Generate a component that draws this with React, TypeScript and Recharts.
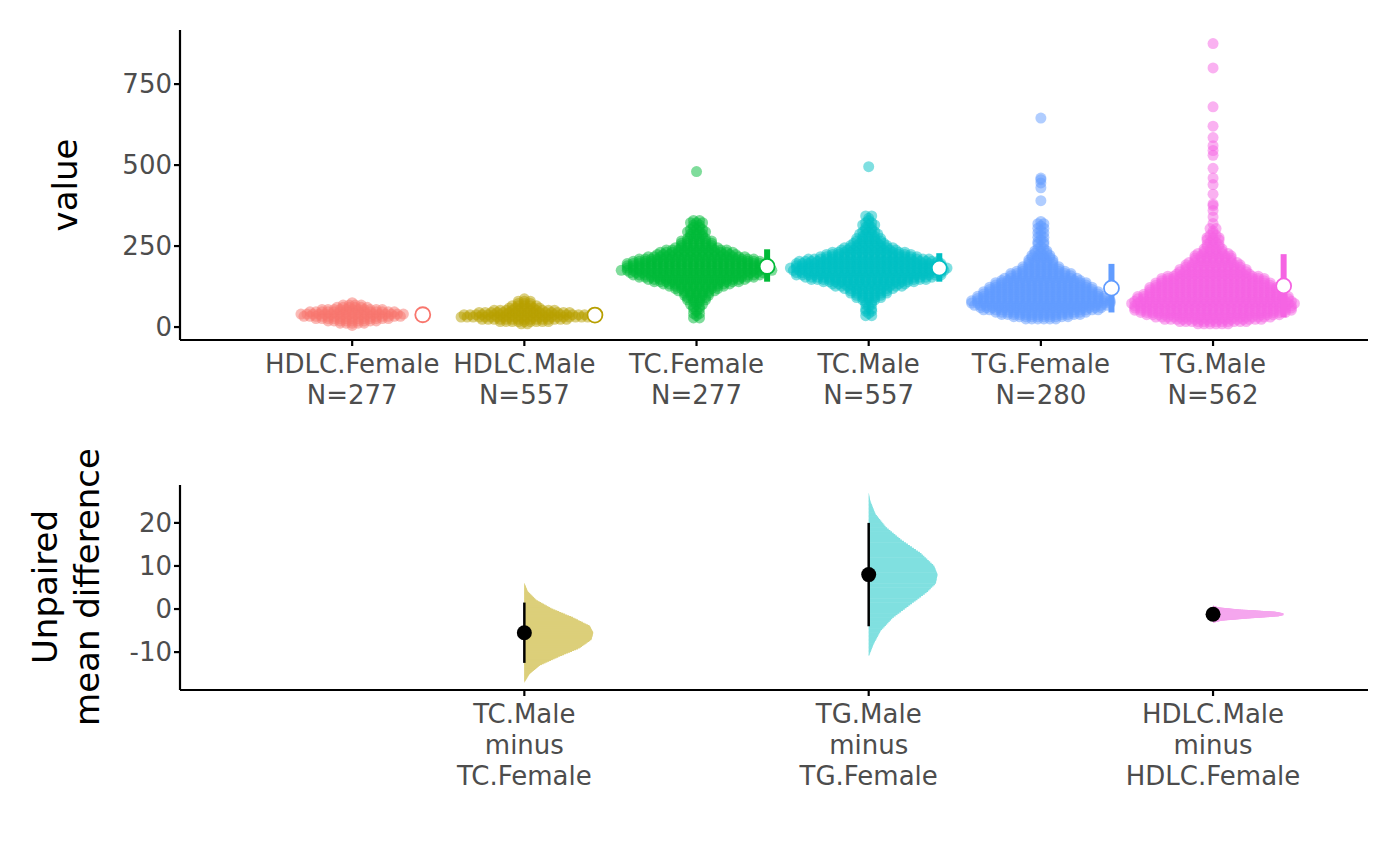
import { ComposedChart, Scatter, XAxis, YAxis, ErrorBar } from 'recharts';

const groups = ['HDLC.Female', 'HDLC.Male', 'TC.Female', 'TC.Male', 'TG.Female', 'TG.Male'];
const groupN = [277, 557, 277, 557, 280, 562];
const colors = ['#F8766D', '#B79F00', '#00BA38', '#00BFC4', '#619CFF', '#F564E3'];

// swarm outline: [value, half width in category units]
const swarmProfiles: [number, number][][] = [
  [[5, 0.03], [15, 0.1], [25, 0.22], [35, 0.33], [45, 0.3], [55, 0.18], [65, 0.08], [75, 0.03]],
  [[10, 0.05], [20, 0.2], [30, 0.38], [40, 0.35], [50, 0.2], [60, 0.1], [72, 0.05], [88, 0.02]],
  [[28, 0.02], [50, 0.02], [75, 0.04], [100, 0.08], [125, 0.15], [150, 0.32], [175, 0.45], [200, 0.4], [225, 0.25], [250, 0.12], [275, 0.07], [300, 0.05], [330, 0.03]],
  [[35, 0.02], [60, 0.03], [85, 0.06], [110, 0.12], [135, 0.25], [160, 0.42], [180, 0.48], [205, 0.4], [230, 0.22], [255, 0.1], [280, 0.06], [310, 0.04], [345, 0.02]],
  [[25, 0.12], [50, 0.32], [75, 0.42], [100, 0.36], [125, 0.3], [150, 0.22], [175, 0.15], [200, 0.08], [225, 0.05], [250, 0.03], [275, 0.02], [300, 0.02], [330, 0.02]],
  [[10, 0.12], [25, 0.32], [50, 0.46], [75, 0.5], [100, 0.42], [125, 0.36], [150, 0.3], [175, 0.2], [200, 0.15], [225, 0.1], [250, 0.06], [275, 0.04], [305, 0.02]],
];
const outliers: number[][] = [
  [],
  [],
  [480],
  [495],
  [390, 430, 445, 455, 460, 645],
  [320, 340, 360, 375, 380, 410, 440, 460, 490, 530, 545, 560, 585, 620, 680, 800, 875],
];
const groupMean = [38, 37, 187, 182, 120, 127];
const groupLo = [26, 26, 140, 140, 45, 30];
const groupHi = [50, 48, 240, 228, 195, 225];

// effect sizes
const diffLabels = [['TC.Male', 'minus', 'TC.Female'], ['TG.Male', 'minus', 'TG.Female'], ['HDLC.Male', 'minus', 'HDLC.Female']];
const diffX = [2, 4, 6];
const diffMean = [-5.5, 8, -1.2];
const diffLo = [-12.5, -4, -2.3];
const diffHi = [1.5, 20, -0.2];
const violinColors = ['#DCCF7A', '#80E0E0', '#F5A6EE'];
const violinProfiles: [number, number][][] = [
  [[-17, 0], [-15, 0.03], [-13, 0.09], [-11, 0.2], [-9, 0.32], [-7, 0.39], [-5.5, 0.4], [-4, 0.38], [-2, 0.28], [0, 0.16], [2, 0.07], [4, 0.02], [6, 0]],
  [[-11, 0], [-8, 0.03], [-5, 0.07], [-2, 0.14], [1, 0.24], [4, 0.34], [6, 0.39], [8, 0.4], [10, 0.38], [13, 0.3], [16, 0.19], [19, 0.1], [22, 0.04], [25, 0.01], [27, 0]],
  [[-3, 0], [-2.5, 0.05], [-2, 0.2], [-1.5, 0.38], [-1.2, 0.41], [-0.8, 0.36], [-0.3, 0.15], [0.2, 0.03], [0.6, 0]],
];

const FONT = 'DejaVu Sans';

function widthAt(p: [number, number][], v: number) {
  for (let i = 0; i < p.length - 1; i++) {
    const [a, wa] = p[i], [b, wb] = p[i + 1];
    if (v >= a && v <= b) return wa + ((v - a) / (b - a)) * (wb - wa);
  }
  return 0;
}

function swarmDots(g: number) {
  const p = swarmProfiles[g];
  const pts: { x: number; y: number }[] = [];
  const sp = 0.035;
  let row = 0;
  for (let v = p[0][0]; v <= p[p.length - 1][0]; v += 7, row++) {
    const hw = widthAt(p, v);
    const n = Math.max(1, Math.round((2 * hw) / sp) + 1);
    const off = row % 2 ? sp / 2 : 0;
    for (let j = 0; j < n; j++) {
      const dx = (j - (n - 1) / 2) * sp + (n > 1 ? off : 0);
      if (Math.abs(dx) <= hw + 0.001) pts.push({ x: g + 1 + dx, y: v });
    }
  }
  outliers[g].forEach((v) => pts.push({ x: g + 1, y: v }));
  return pts;
}

function violinRows(k: number) {
  const p = violinProfiles[k];
  const lo = p[0][0], hi = p[p.length - 1][0];
  const step = (hi - lo) / 120;
  const rows: { x: number; y: number; err: [number, number] }[] = [];
  for (let v = lo; v <= hi; v += step) {
    rows.push({ x: diffX[k], y: v, err: [0, widthAt(p, v)] });
  }
  return rows;
}

const Nothing = () => <g />;

const makeTick = (lines: (v: number) => string[]) => ({ x, y, payload }: any) => (
  <text x={x} y={y} textAnchor="middle" fill="#4d4d4d" fontSize={26} fontFamily={FONT}>
    {lines(payload.value).map((l, i) => (
      <tspan key={i} x={x} dy={i === 0 ? 25 : 31}>{l}</tspan>
    ))}
  </text>
);

const TopTick = makeTick((v) => [groups[v - 1], `N=${groupN[v - 1]}`]);
const BotTick = makeTick((v) => diffLabels[diffX.indexOf(v)] || []);

const axisStyle = { stroke: '#000', strokeWidth: 2.2 };
const yTick = { fill: '#4d4d4d', fontSize: 26, fontFamily: FONT };

export default function App() {
  return (
    <div style={{ position: 'absolute', left: 0, top: 0, width: 1400, height: 866, background: '#fff', fontFamily: FONT }}>
      <ComposedChart width={1400} height={430} margin={{ top: 30, right: 32, left: 0, bottom: 0 }}>
        <XAxis type="number" dataKey="x" domain={[0, 6.9]} ticks={[1, 2, 3, 4, 5, 6]} height={90}
          axisLine={axisStyle} tickLine={axisStyle} tickSize={6} tick={<TopTick />} allowDataOverflow />
        <YAxis type="number" dataKey="y" domain={[-40, 917]} ticks={[0, 250, 500, 750]} width={180}
          axisLine={axisStyle} tickLine={axisStyle} tickSize={6} tick={yTick} allowDataOverflow />
        {groups.map((g, i) => (
          <Scatter key={g} data={swarmDots(i)} isAnimationActive={false}
            shape={(p: any) => <circle cx={p.cx} cy={p.cy} r={5.5} fill={colors[i]} fillOpacity={0.5} />} />
        ))}
        {groups.map((g, i) => (
          <Scatter key={g + 'sd'} data={[{ x: i + 1.41, y: groupLo[i] }, { x: i + 1.41, y: groupHi[i] }]}
            isAnimationActive={false} line={{ stroke: colors[i], strokeWidth: 6 }} shape={Nothing} />
        ))}
        {groups.map((g, i) => (
          <Scatter key={g + 'm'} data={[{ x: i + 1.41, y: groupMean[i] }]} isAnimationActive={false}
            shape={(p: any) => <circle cx={p.cx} cy={p.cy} r={7.5} fill="#fff" stroke={colors[i]} strokeWidth={1.8} />} />
        ))}
        <text x={65} y={185} transform="rotate(-90 65 185)" textAnchor="middle" dominantBaseline="central" fontSize={34} fill="#000">value</text>
      </ComposedChart>
      <ComposedChart width={1400} height={436} margin={{ top: 55, right: 32, left: 0, bottom: 56 }}>
        <XAxis type="number" dataKey="x" domain={[0, 6.9]} ticks={[2, 4, 6]} height={120}
          axisLine={axisStyle} tickLine={axisStyle} tickSize={6} tick={<BotTick />} allowDataOverflow />
        <YAxis type="number" dataKey="y" domain={[-18.8, 28.8]} ticks={[-10, 0, 10, 20]} width={180}
          axisLine={axisStyle} tickLine={axisStyle} tickSize={6} tick={yTick} allowDataOverflow />
        {diffX.map((dx, k) => (
          <Scatter key={'v' + k} data={violinRows(k)} isAnimationActive={false} shape={Nothing}>
            <ErrorBar dataKey="err" direction="x" width={0} stroke={violinColors[k]} strokeWidth={2} />
          </Scatter>
        ))}
        {diffX.map((dx, k) => (
          <Scatter key={'ci' + k} data={[{ x: dx, y: diffLo[k] }, { x: dx, y: diffHi[k] }]}
            isAnimationActive={false} line={{ stroke: '#000', strokeWidth: 2.5 }} shape={Nothing} />
        ))}
        {diffX.map((dx, k) => (
          <Scatter key={'m' + k} data={[{ x: dx, y: diffMean[k] }]} isAnimationActive={false}
            shape={(p: any) => <circle cx={p.cx} cy={p.cy} r={7.5} fill="#000" />} />
        ))}
        <text x={45} y={157} transform="rotate(-90 45 157)" textAnchor="middle" dominantBaseline="central" fontSize={34} fill="#000">Unpaired</text>
        <text x={87} y={157} transform="rotate(-90 87 157)" textAnchor="middle" dominantBaseline="central" fontSize={34} fill="#000">mean difference</text>
      </ComposedChart>
    </div>
  );
}
